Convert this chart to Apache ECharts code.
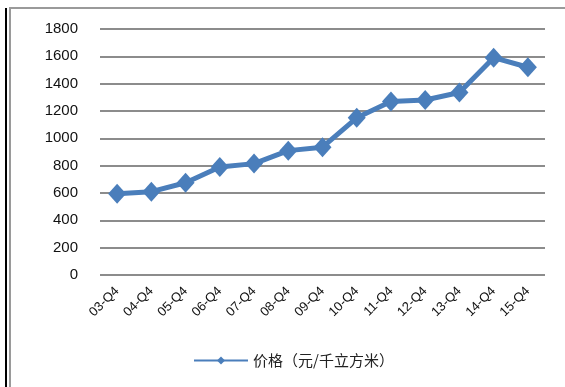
<!DOCTYPE html>
<html>
<head>
<meta charset="utf-8">
<script src="https://cdn.jsdelivr.net/npm/echarts@6/dist/echarts.min.js"></script>
<style>
  html, body { margin: 0; padding: 0; background: #fff; }
  #chart { width: 565px; height: 387px; }
</style>
</head>
<body>
<div id="chart"></div>
<script>
var quarters = ['03-Q4', '04-Q4', '05-Q4', '06-Q4', '07-Q4', '08-Q4', '09-Q4',
  '10-Q4', '11-Q4', '12-Q4', '13-Q4', '14-Q4', '15-Q4'];
var prices = [595, 610, 675, 790, 815, 910, 935, 1150, 1270, 1280, 1335, 1590, 1520];
var seriesName = '价格（元/千立方米）';

var chart = echarts.init(document.getElementById('chart'), null, { renderer: 'canvas' });

var font = '"Liberation Sans", "Noto Sans CJK SC", sans-serif';

chart.setOption({
  animation: false,
  textStyle: { fontFamily: font },
  grid: { left: 100, right: 20, top: 29, bottom: 112 },
  legend: {
    data: [seriesName],
    left: 188,
    top: 348,
    itemWidth: 54,
    itemHeight: 10,
    itemGap: 4,
    textStyle: { fontSize: 15, color: '#222', fontFamily: '"Noto Sans CJK SC", sans-serif' }
  },
  xAxis: {
    type: 'category',
    data: quarters,
    boundaryGap: true,
    axisLine: { show: false },
    axisTick: { show: false },
    axisLabel: { rotate: 45, fontSize: 13, color: '#111', margin: 14, interval: 0 }
  },
  yAxis: {
    type: 'value',
    min: 0,
    max: 1800,
    interval: 200,
    axisLine: { show: false },
    axisTick: { show: false },
    axisLabel: { fontSize: 15, color: '#111', margin: 22, formatter: function (v) { return String(v); } },
    splitLine: { lineStyle: { color: '#8c8c8c', width: 2 } }
  },
  series: [{
    name: seriesName,
    type: 'line',
    data: prices,
    symbol: 'diamond',
    symbolSize: [18, 20],
    lineStyle: { color: '#4a7ebb', width: 5 },
    itemStyle: { color: '#4a7ebb' }
  }],
  graphic: [
    { type: 'rect', shape: { x: 5, y: 8, width: 2, height: 380 }, style: { fill: '#000' } },
    { type: 'rect', shape: { x: 9, y: 7, width: 2, height: 381 }, style: { fill: '#9a9a9a' } },
    { type: 'rect', shape: { x: 9, y: 7, width: 556, height: 2 }, style: { fill: '#9a9a9a' } }
  ]
});
</script>
</body>
</html>
